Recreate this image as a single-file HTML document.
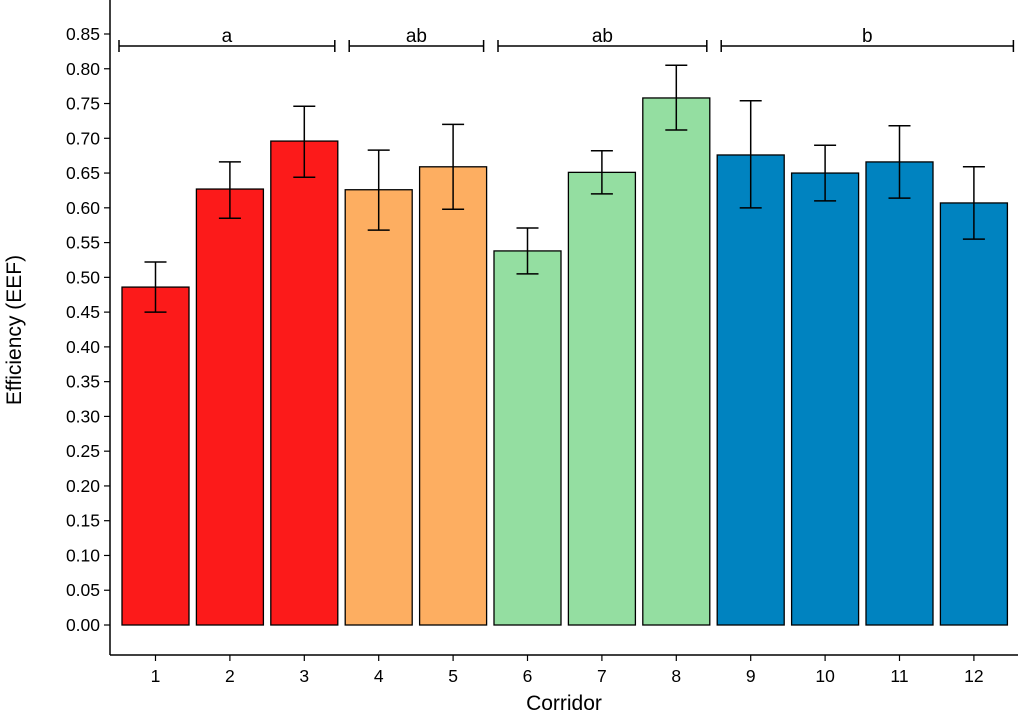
<!DOCTYPE html>
<html><head><meta charset="utf-8"><style>
html,body{margin:0;padding:0;background:#fff;}
svg{display:block;font-family:"Liberation Sans",Arial,sans-serif;}
</style></head><body>
<svg id="chart" width="1024" height="716"></svg>
<script>
const categories=["1","2","3","4","5","6","7","8","9","10","11","12"];
const values=[0.486,0.627,0.696,0.626,0.659,0.538,0.651,0.758,0.676,0.650,0.666,0.607];
const errLow=[0.450,0.585,0.644,0.568,0.598,0.505,0.620,0.712,0.600,0.610,0.614,0.555];
const errHigh=[0.522,0.666,0.746,0.683,0.720,0.571,0.682,0.805,0.754,0.690,0.718,0.659];
const groups=["a","a","a","b","b","c","c","c","d","d","d","d"];
const groupColors={a:"#fc1a1a",b:"#fdae61",c:"#94dea1",d:"#0083c0"};
const yTicks=[0,0.05,0.10,0.15,0.20,0.25,0.30,0.35,0.40,0.45,0.50,0.55,0.60,0.65,0.70,0.75,0.80,0.85];
const brackets=[{label:"a",from:0,to:2},{label:"ab",from:3,to:4},{label:"ab",from:5,to:7},{label:"b",from:8,to:11}];

const NS="http://www.w3.org/2000/svg";
const svg=document.getElementById('chart');
const y=v=>625-v*695.3;
const x=i=>155.5+i*74.4;
const bw=67;
function mk(t,a,p){const e=document.createElementNS(NS,t);for(const k in a)e.setAttribute(k,a[k]);(p||svg).appendChild(e);return e;}

const ax=mk('line',{x1:110,y1:0,x2:110,y2:655,stroke:'#000','stroke-width':1.5});


const axx=mk('line',{x1:110,y1:655,x2:1018,y2:655,stroke:'#000','stroke-width':1.5});



yTicks.forEach(v=>{
  const t=mk('line',{x1:104,y1:y(v),x2:110,y2:y(v),stroke:'#000','stroke-width':1.2});
  
  
  const l=mk('text',{x:100,y:y(v)+6,'text-anchor':'end','font-size':17.5,fill:'#000'});
  l.textContent=v.toFixed(2);
  
  
});

categories.forEach((c,i)=>{
  const r=mk('rect',{x:x(i)-bw/2,y:y(values[i]),width:bw,height:y(0)-y(values[i]),fill:groupColors[groups[i]],stroke:'#000','stroke-width':1.3});
  
  
  const g=mk('path',{d:`M${x(i)-11},${y(errHigh[i])}H${x(i)+11}M${x(i)},${y(errHigh[i])}V${y(errLow[i])}M${x(i)-11},${y(errLow[i])}H${x(i)+11}`,stroke:'#000','stroke-width':1.5,fill:'none'});
  
  
  const t=mk('line',{x1:x(i),y1:655,x2:x(i),y2:661,stroke:'#000','stroke-width':1.2});
  
  
  const l=mk('text',{x:x(i),y:682,'text-anchor':'middle','font-size':17.5,fill:'#000'});
  l.textContent=c;
  
  
});

brackets.forEach((b,k)=>{
  const x1=x(b.from)-bw/2+(b.from===0?-3:4);
  const x2=x(b.to)+bw/2+(b.to===categories.length-1?6:-3);
  const p=mk('path',{d:`M${x1},40V52M${x1},46H${x2}M${x2},40V52`,stroke:'#000','stroke-width':1.5,fill:'none'});
  
  
  const l=mk('text',{x:(x1+x2)/2,y:42,'text-anchor':'middle','font-size':19,fill:'#000'});
  l.textContent=b.label;
  
  
});

const xt=mk('text',{x:564,y:710,'text-anchor':'middle','font-size':21,fill:'#000'});
xt.textContent='Corridor';


const yt=mk('text',{x:0,y:0,'text-anchor':'middle','font-size':21,fill:'#000',transform:'translate(21,330) rotate(-90)'});
yt.textContent='Efficiency (EEF)';


</script>
</body></html>
